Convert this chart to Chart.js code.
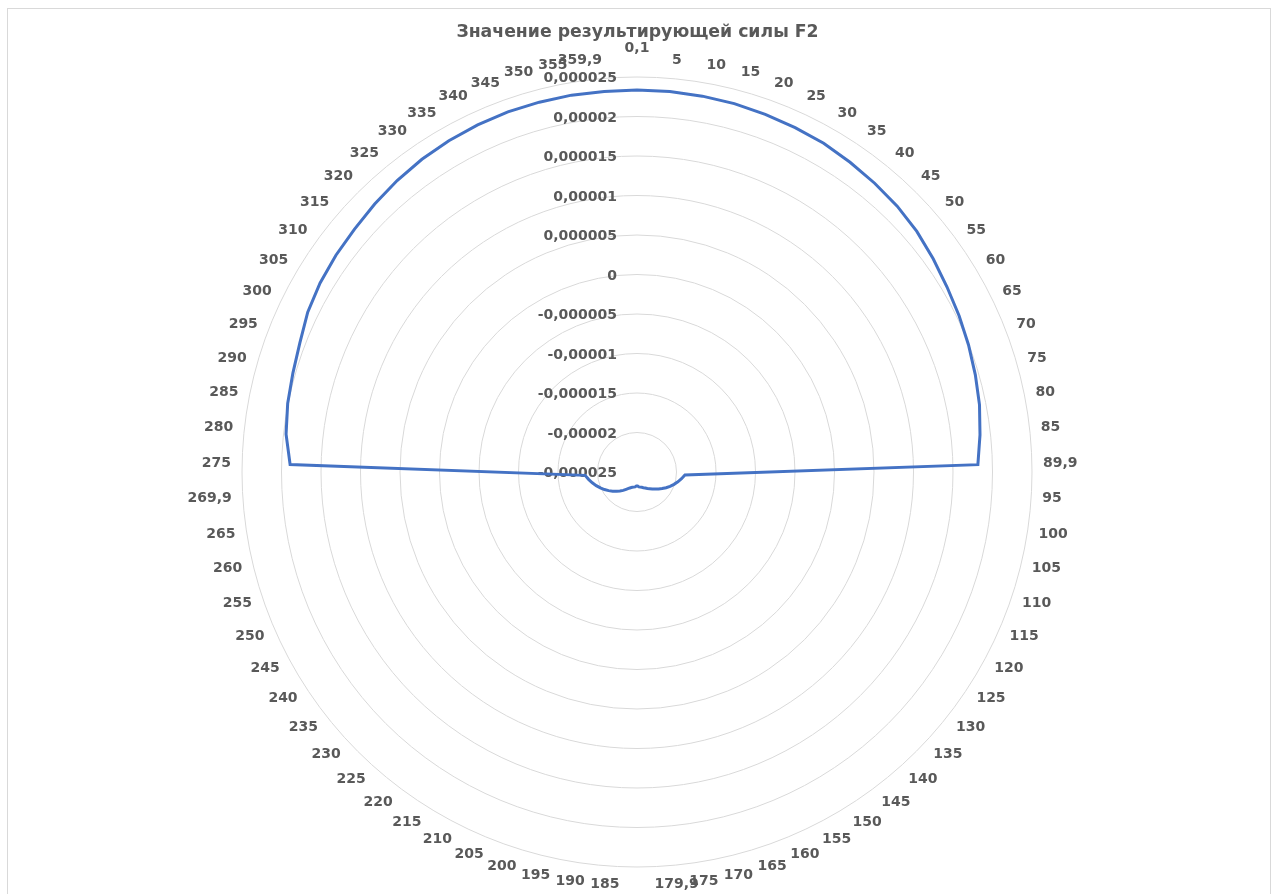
<!DOCTYPE html>
<html>
<head>
<meta charset="utf-8">
<script src="https://cdn.jsdelivr.net/npm/chart.js@4.4.0/dist/chart.umd.min.js"></script>
<style>
  html, body { margin: 0; padding: 0; overflow: hidden; background: #fff; }
  #wrap { position: relative; width: 1277px; height: 907px; }
  #frame { position: absolute; left: 7px; top: 8px; width: 1262px; height: 1000px; border: 1px solid #d9d9d9; }
</style>
</head>
<body>
<div id="wrap">
  <div id="frame"></div>
  <canvas id="chart_radar_f2"></canvas>
</div>
<script>
// углы (подписи категорий)
const angleLabels = ['0,1', '5', '10', '15', '20', '25', '30', '35', '40', '45', '50', '55', '60', '65', '70', '75', '80', '85',
  '89,9', '95', '100', '105', '110', '115', '120', '125', '130', '135', '140', '145', '150', '155', '160', '165', '170', '175',
  '179,9', '185', '190', '195', '200', '205', '210', '215', '220', '225', '230', '235', '240', '245', '250', '255', '260', '265',
  '269,9', '275', '280', '285', '290', '295', '300', '305', '310', '315', '320', '325', '330', '335', '340', '345', '350', '355',
  '359,9']

// значения F2 (оценка по рисунку)
const f2Values = [
  23.35e-6, 23.35e-6, 23.29e-6, 23.23e-6, 23.10e-6, 22.97e-6, 22.85e-6, 22.59e-6, 22.34e-6, 22.09e-6,
  21.71e-6, 21.20e-6, 20.70e-6, 20.32e-6, 19.94e-6, 19.56e-6, 19.18e-6, 18.67e-6, 18.16e-6,
  -18.92e-6, -19.30e-6, -19.68e-6, -20.06e-6, -20.44e-6, -20.82e-6, -21.20e-6, -21.52e-6, -21.84e-6,
  -22.09e-6, -22.34e-6, -22.53e-6, -22.72e-6, -22.85e-6, -22.97e-6, -23.04e-6, -23.10e-6, -23.23e-6,
  -23.23e-6, -23.10e-6, -23.04e-6, -22.97e-6, -22.85e-6, -22.66e-6, -22.41e-6, -22.09e-6, -21.77e-6,
  -21.46e-6, -21.08e-6, -20.70e-6, -20.32e-6, -19.94e-6, -19.56e-6, -19.18e-6, -18.80e-6, -18.42e-6,
  18.92e-6, 19.68e-6, 20.06e-6, 20.32e-6, 20.70e-6, 21.33e-6, 21.71e-6, 21.96e-6, 22.15e-6,
  22.47e-6, 22.78e-6, 23.04e-6, 23.23e-6, 23.35e-6, 23.42e-6, 23.42e-6, 23.42e-6, 23.35e-6
]

const tickLabels = ['-0,000025', '-0,00002', '-0,000015', '-0,00001', '-0,000005', '0',
  '0,000005', '0,00001', '0,000015', '0,00002', '0,000025']
const axisMin = -0.000025
const axisMax = 0.000025
const axisStep = 0.000005

const chartTitle = 'Значение результирующей силы F2'
const textColor = '#595959'
const labelFont = 'DejaVu Sans'

// подписи как в Excel: шкала слева от вертикали, углы - край подписи у точки,
// по вертикали центр; плюс заголовок
var excelTextPlugin = {
    id: 'excelText',
    beforeDatasetsDraw: function (chart) {
        var s = chart.scales.r
        var ctx = chart.ctx
        ctx.save()
        ctx.font = 'bold 14px "' + labelFont + '"'
        ctx.fillStyle = textColor
        ctx.textBaseline = 'middle'
        ctx.textAlign = 'right'
        s.ticks.forEach(function (t, i) {
            var y = s.yCenter - s.getDistanceFromCenterForValue(t.value)
            ctx.fillText(tickLabels[i], s.xCenter - 20, y + 1.5)
        })
        angleLabels.forEach(function (lbl, i) {
            var a = s.getIndexAngle(i)
            var sn = Math.sin(a)
            var centred = Math.abs(sn) < 0.01
            // верхняя подпись по центру в Excel стоит выше остальных
            var p = s.getPointPosition(i, s.drawingArea + (centred ? 22 : 11))
            ctx.textAlign = centred ? 'center' : (sn > 0 ? 'left' : 'right')
            ctx.fillText(lbl, p.x, p.y - Math.cos(a) * 7)
        })
        ctx.font = 'bold 17.3px "' + labelFont + '"'
        ctx.textAlign = 'center'
        ctx.fillText(chartTitle, 637.5, 33)
        ctx.restore()
    }
}

var ctxRadar = document.getElementById('chart_radar_f2').getContext('2d')
var radarChart = new Chart(ctxRadar, {
    type: 'radar',
    data: {
        labels: angleLabels,
        datasets: [{
            label: 'F2',
            data: f2Values,
            fill: false,
            borderColor: '#4472c4',
            borderWidth: 3,
            pointRadius: 0,
            tension: 0,
        }]
    },
    options: {
        responsive: true,
        maintainAspectRatio: false,
        animation: false,
        layout: {padding: {top: 77, left: 0, right: 2, bottom: 40}},
        plugins: {
            legend: {display: false},
            tooltip: {enabled: false},
            title: {display: false},
        },
        scales: {
            r: {
                min: axisMin,
                max: axisMax,
                ticks: {display: false, stepSize: axisStep},
                grid: {circular: true, color: '#d9d9d9', lineWidth: 1},
                angleLines: {display: false},
                pointLabels: {display: false},
            }
        }
    },
    plugins: [excelTextPlugin]
})
</script>
</body>
</html>
